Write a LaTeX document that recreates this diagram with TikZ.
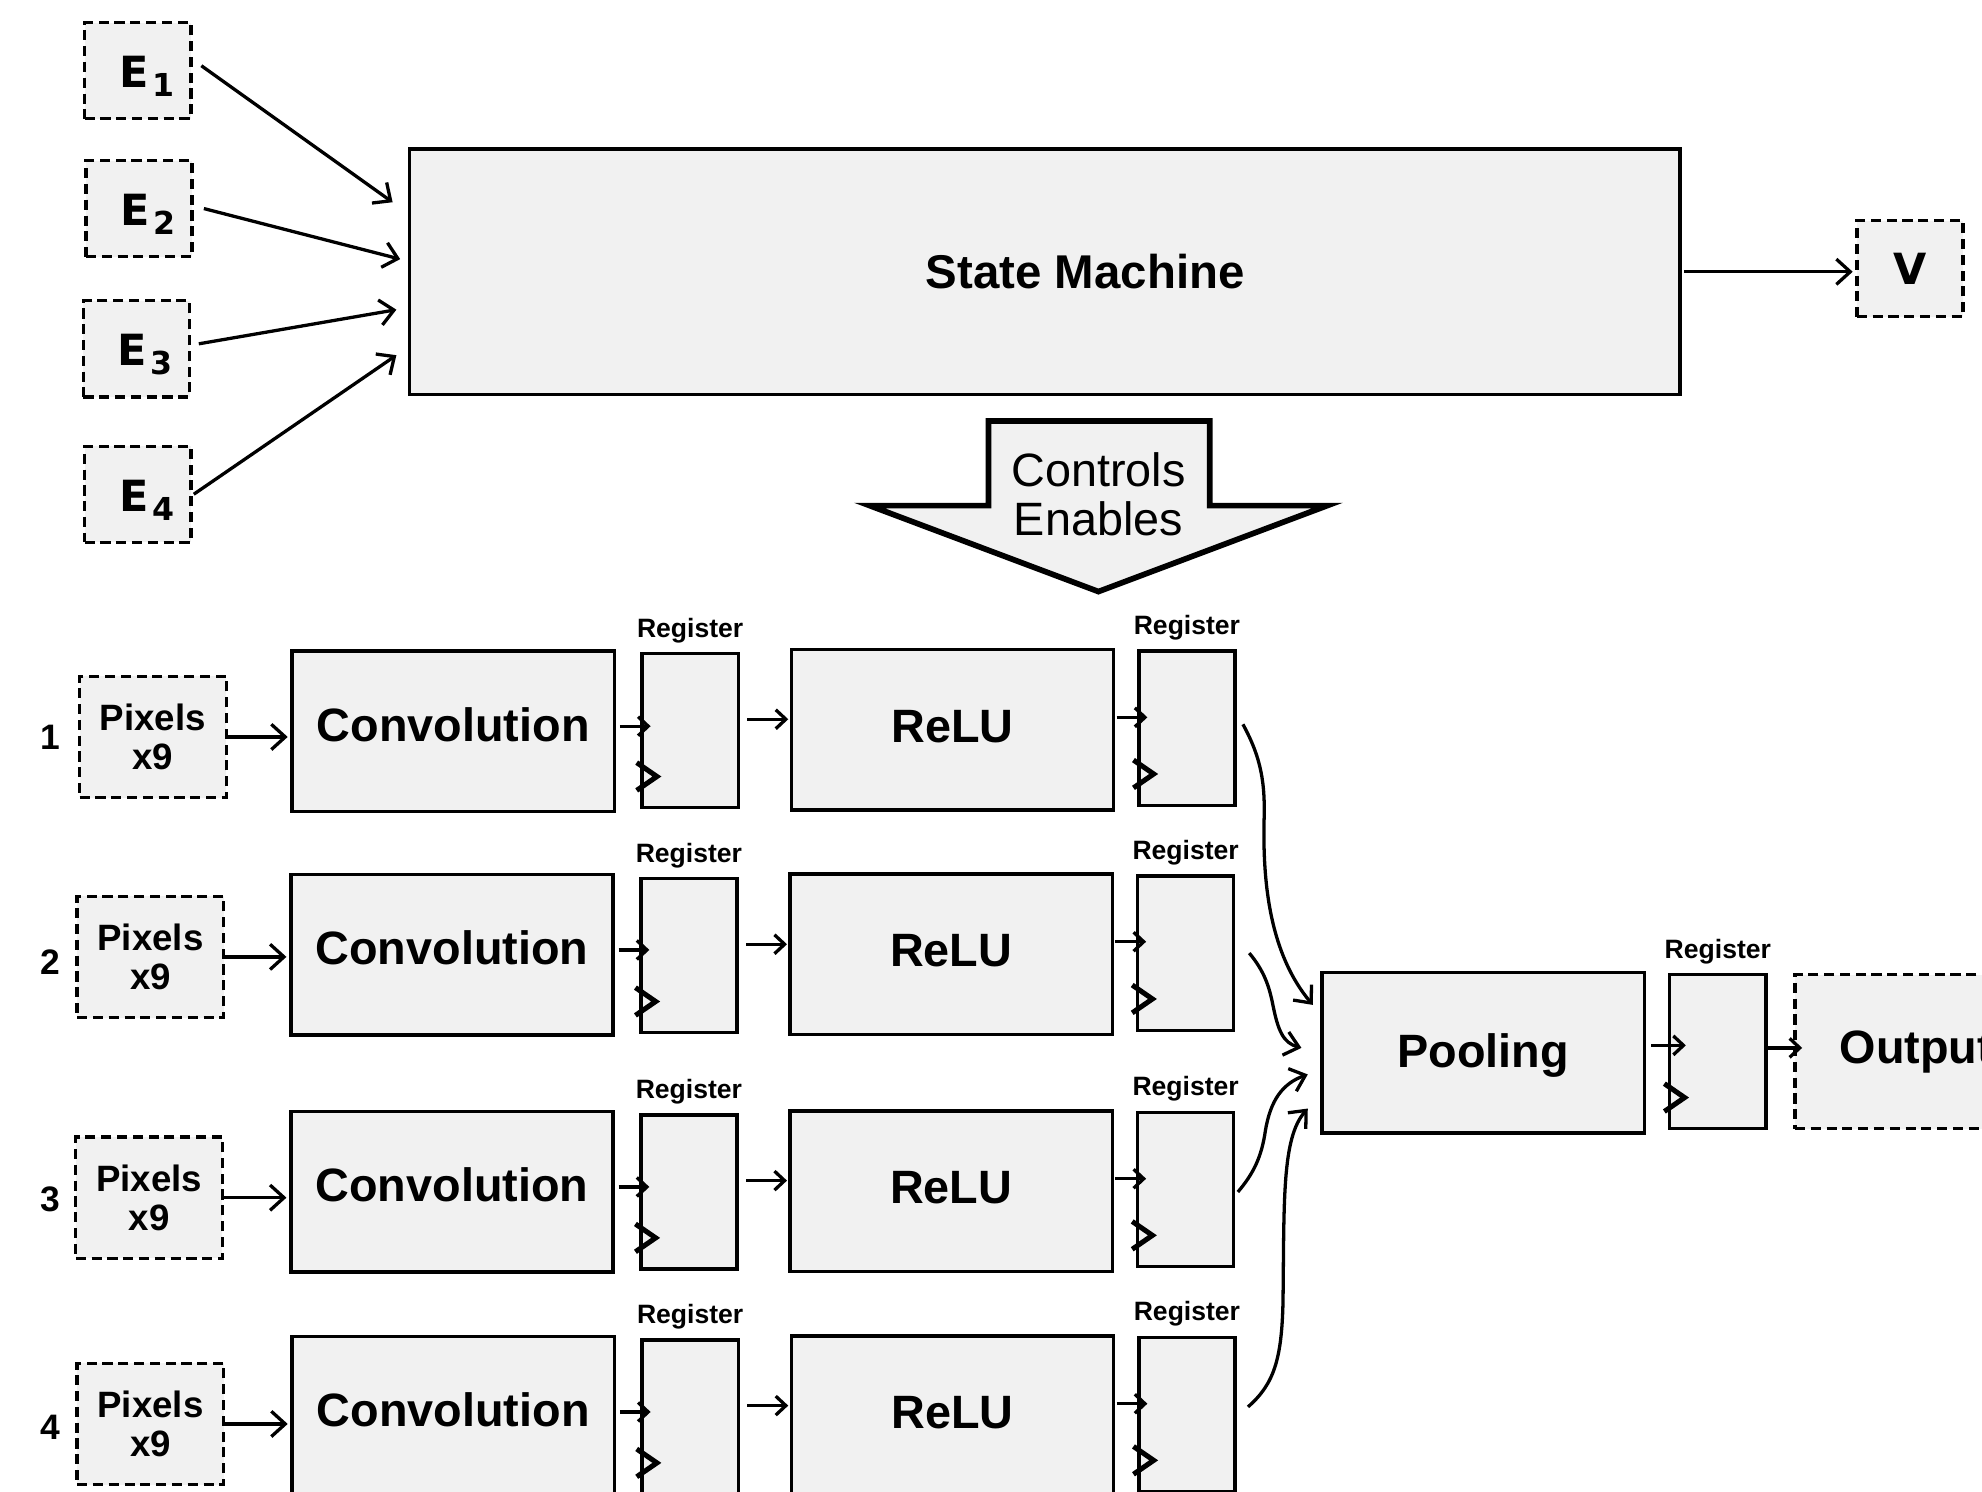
\documentclass[tikz,border=0pt]{standalone}
\usepackage{fontspec}
\setmainfont{Liberation Sans}
\newfontfamily\dvs{DejaVu Sans}
\usetikzlibrary{arrows.meta,calc}
\definecolor{boxfill}{HTML}{F1F1F1}
\begin{document}
\begin{tikzpicture}[x=1pt,y=-1pt,
  blk/.style={draw=black, line width=2.8pt, fill=boxfill, inner sep=0pt,
    minimum width=255pt, minimum height=127pt,
    font=\fontsize{37}{40}\selectfont\bfseries},
  convtxt/.style={text height=26pt, text depth=10.5pt},
  relutxt/.style={text height=26pt, text depth=6.5pt},
  pooltxt/.style={text height=26pt, text depth=3.5pt},
  regbox/.style={draw=black, line width=2.6pt, fill=boxfill, inner sep=0pt,
    minimum width=76pt, minimum height=122pt,
    label={[reglbl]above:Register}},
  reglbl/.style={font=\fontsize{21}{21}\selectfont\bfseries, inner sep=0pt, label distance=7pt},
  dsh/.style={draw=black, line width=2.6pt, dash pattern=on 8pt off 4.5pt, fill=boxfill, inner sep=0pt},
  ebox/.style={dsh, minimum width=84pt, minimum height=76pt, text height=27pt, text depth=0pt,
    font=\dvs\fontsize{34}{34}\selectfont\bfseries},
  pixbox/.style={dsh, minimum width=116pt, minimum height=96pt, align=center,
    font=\fontsize{29}{31}\selectfont\bfseries},
  numlbl/.style={font=\fontsize{28}{28}\selectfont\bfseries, inner sep=0pt},
  arr/.style={line width=2.6pt, -{Straight Barb[length=11pt,width=20pt]}},
  sarr/.style={line width=2.6pt, -{Straight Barb[length=8pt,width=15pt]}},
  curv/.style={line width=2.6pt, -{Straight Barb[length=11pt,width=19pt]}},
  clk/.style={line width=4pt, line join=miter},
]
\useasboundingbox (0,0) rectangle (1568,1180);
\clip (0,0) rectangle (1568,1180);

% ---------- top part ----------
\node[ebox] (e1) at (109,56) {\hspace*{14pt}E\kern3pt\raisebox{-7pt}{\fontsize{25}{25}\selectfont 1}};
\node[ebox] (e2) at (110,165) {\hspace*{14pt}E\kern3pt\raisebox{-7pt}{\fontsize{25}{25}\selectfont 2}};
\node[ebox] (e3) at (108,276) {\hspace*{14pt}E\kern3pt\raisebox{-7pt}{\fontsize{25}{25}\selectfont 3}};
\node[ebox] (e4) at (109,391) {\hspace*{14pt}E\kern3pt\raisebox{-7pt}{\fontsize{25}{25}\selectfont 4}};

\node[draw=black, line width=2.8pt, fill=boxfill, minimum width=1005pt, minimum height=194pt,
  inner sep=0pt, font=\fontsize{37.5}{40}\selectfont\bfseries] (sm) at (826.5,215) {\hspace*{64pt}State Machine};
\node[ebox, text height=25pt, text depth=0pt] (v) at (1511,212.5) {V};

\draw[arr] ($(e1.east)+(7,-4)$) -- ($(sm.west)+(-12,-55)$);
\draw[arr] ($(e2.east)+(8,0)$) -- ($(sm.west)+(-6,-10)$);
\draw[arr] ($(e3.east)+(6,-4)$) -- ($(sm.west)+(-9,30)$);
\draw[arr] ($(e4.east)+(1,0)$) -- ($(sm.west)+(-9,66)$);
\draw[arr] ($(sm.east)+(2,0)$) -- ($(sm.east -| v.west)+(-2,0)$);

% big arrow
\draw[line width=4.5pt, fill=boxfill, line join=miter]
  (782,333) -- (957,333) -- (957,400) -- (1050,400) -- (869,468) -- (688,400) -- (782,400) -- cycle;
\node[align=center, font=\fontsize{37}{39}\selectfont, inner sep=0pt] (ctrl) at (869,391) {Controls\\Enables};

% ---------- rows ----------
\foreach \r/\yn/\px/\py/\cx/\cy/\ax/\ay/\lx/\ly/\bx/\by in {
  1/583/121/583/358.5/578.5/546/578/753.5/577.5/939/576,
  2/761/119/757/357.5/755.5/545/756/752.5/755/938/754,
  3/949/118/947.5/357.5/943/545/943/752.5/942.5/938/941,
  4/1129/119/1126.5/358.5/1121/546/1121/753.5/1120.5/939/1119}{
  \node[numlbl] (n\r) at (40,\yn) {\r};
  \node[pixbox] (p\r) at (\px,\py) {Pixels\\x9};
  \node[blk, convtxt] (c\r) at (\cx,\cy) {Convolution};
  \node[regbox] (a\r) at (\ax,\ay) {};
  \node[blk, relutxt] (u\r) at (\lx,\ly) {ReLU};
  \node[regbox] (b\r) at (\bx,\by) {};
  \draw[arr] (p\r.east) -- ($(p\r.east -| c\r.west)+(-2,0)$);
  \draw[sarr] ($(c\r.east)+(3,-4)$) -- ($(c\r.east -| a\r.west)+(8,-4)$);
  \draw[sarr] ($(a\r.east)+(6,-9)$) -- ($(a\r.east -| u\r.west)+(-1,-9)$);
  \draw[sarr] ($(u\r.east)+(1,-10)$) -- ($(u\r.east -| b\r.west)+(8,-10)$);
  \draw[clk] ($(a\r.south west)+(-3,-37)$) -- ($(a\r.south west)+(13,-26)$) -- ($(a\r.south west)+(-3,-15)$);
  \draw[clk] ($(b\r.south west)+(-3,-37)$) -- ($(b\r.south west)+(13,-26)$) -- ($(b\r.south west)+(-3,-15)$);
}

% ---------- pooling ----------
\node[blk, pooltxt] (pool) at (1173.5,833) {Pooling};
\node[regbox] (rp) at (1359,832) {};
\node[dsh, minimum width=192pt, minimum height=122pt, font=\fontsize{37}{40}\selectfont\bfseries] (out) at (1516,832) {Output};
\draw[sarr] ($(pool.east)+(4,-6)$) -- ($(pool.east -| rp.west)+(14,-6)$);
\draw[sarr] ($(rp.east)+(0,-3)$) -- ($(rp.east -| out.west)+(7,-3)$);
\draw[clk] ($(rp.south west)+(-3,-37)$) -- ($(rp.south west)+(13,-26)$) -- ($(rp.south west)+(-3,-15)$);

% curved connectors
\draw[curv] ($(b1.east)+(5,-3)$) .. controls (998,600) and (1001,620) .. (1000,650)
  .. controls (999,700) and (1005,755) .. ($(pool.west)+(-6,-38)$);
\draw[curv] ($(b2.east)+(11,0)$) .. controls (1000,768) and (1004,780) .. (1007,795)
  .. controls (1011,815) and (1015,825) .. ($(pool.west)+(-15,-4)$);
\draw[curv] ($(b3.east)+(2,2)$) .. controls (992,928) and (998,915) .. (1001,895)
  .. controls (1005,870) and (1015,857) .. ($(pool.west)+(-10,17)$);
\draw[curv] ($(b4.east)+(9,-6)$) .. controls (1008,1095) and (1014,1075) .. (1015,1030)
  .. controls (1016,950) and (1014,900) .. ($(pool.west)+(-10,44)$);
\end{tikzpicture}
\end{document}
